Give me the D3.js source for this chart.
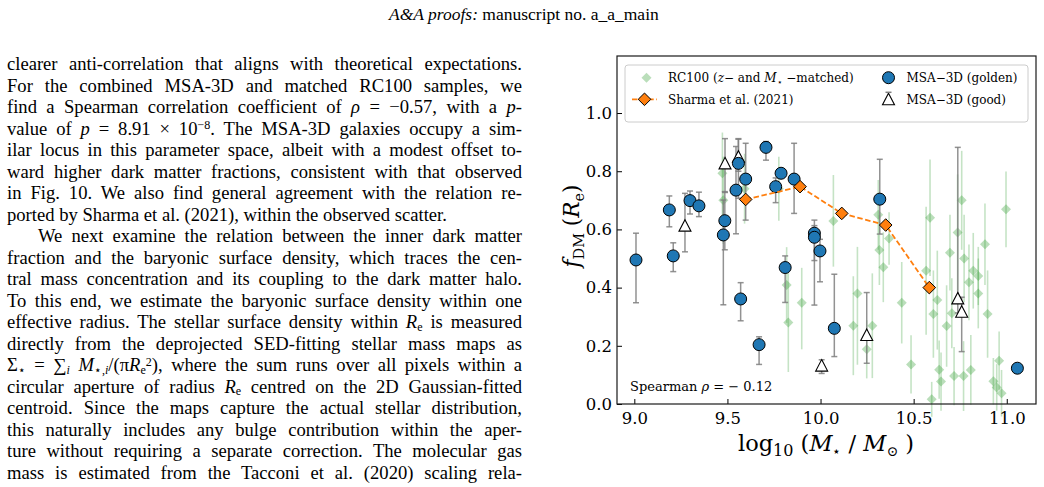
<!DOCTYPE html>
<html>
<head>
<meta charset="utf-8">
<script src="https://cdn.jsdelivr.net/npm/d3@7"></script>
<style>
  html, body { margin:0; padding:0; background:#fff; }
  body { width:1044px; height:487px; overflow:hidden; position:relative; }
  .hdr { position:absolute; left:389px; top:3px; font-family:"Liberation Serif", serif; font-size:17.5px; line-height:22px; white-space:nowrap; color:#000; }
  .ln { position:absolute; left:7px; width:515px; font-family:"Liberation Serif", serif; font-size:18.6px; line-height:21.5px; white-space:nowrap; color:#000; }
  .ln .sb { font-size:65%; position:relative; top:0.2em; line-height:1; }
  .ln .sp { font-size:65%; position:relative; top:-0.45em; line-height:1; }
  svg { position:absolute; left:0; top:0; }
</style>
</head>
<body>
<div class="hdr"><i>A&amp;A proofs:</i> manuscript no. a_a_main</div>
<div id="text"></div>
<div id="chart"></div>
<script>
// ---------------- data ----------------
const xTicks = [9.0, 9.5, 10.0, 10.5, 11.0];
const yTicks = [0.0, 0.2, 0.4, 0.6, 0.8, 1.0];
const xLimits = [8.907, 11.157];
const yLimits = [0.0, 1.196];

// RC100 (z- and M*-matched)
const rcMass  = [9.473, 9.478, 9.592, 9.776, 9.818, 9.827, 9.899, 10.069, 10.310, 10.368, 10.316, 10.337, 10.198, 10.176, 10.278, 10.248, 10.436, 10.486, 10.588, 10.567, 10.627, 10.606, 10.677, 10.695, 10.637, 10.647, 10.597, 10.717, 10.768, 10.807, 10.758, 10.736, 10.771, 10.820, 10.847, 10.797, 10.847, 10.883, 10.897, 10.996, 10.959, 10.928, 10.946, 10.972, 10.705];
const rcFdm   = [0.793, 0.700, 0.740, 0.740, 0.409, 0.280, 0.348, 0.629, 0.650, 0.569, 0.529, 0.470, 0.380, 0.269, 0.269, 0.188, 0.348, 0.136, 0.640, 0.458, 0.357, 0.309, 0.268, 0.520, 0.118, 0.077, 0.016, 0.096, 0.096, 0.117, 0.700, 0.589, 0.500, 0.458, 0.440, 0.418, 0.380, 0.549, 0.309, 0.669, 0.149, 0.078, 0.057, 0.037, 0.312];
const rcErrLo = [0.15, 0.15, 0.12, 0.11, 0.13, 0.17, 0.16, 0.157, 0.12, 0.09, 0.12, 0.12, 0.245, 0.17, 0.18, 0.10, 0.14, 0.10, 0.20, 0.22, 0.17, 0.15, 0.14, 0.13, 0.10, 0.10, 0.06, 0.10, 0.12, 0.12, 0.17, 0.20, 0.15, 0.13, 0.10, 0.13, 0.12, 0.14, 0.15, 0.13, 0.10, 0.08, 0.08, 0.08, 0.12];
const rcErrHi = [0.14, 0.15, 0.12, 0.11, 0.13, 0.17, 0.12, 0.158, 0.12, 0.09, 0.12, 0.12, 0.160, 0.17, 0.18, 0.10, 0.14, 0.10, 0.20, 0.22, 0.17, 0.15, 0.14, 0.13, 0.10, 0.10, 0.06, 0.10, 0.12, 0.12, 0.17, 0.20, 0.15, 0.13, 0.10, 0.13, 0.12, 0.14, 0.15, 0.13, 0.10, 0.08, 0.08, 0.08, 0.12];

// Sharma et al. (2021)
const sharmaMass = [9.598, 9.890, 10.114, 10.350, 10.584];
const sharmaFdm  = [0.703, 0.747, 0.655, 0.615, 0.400];

// MSA-3D (golden)
const goldenMass  = [9.009, 9.188, 9.209, 9.299, 9.347, 9.478, 9.486, 9.559, 9.546, 9.598, 9.571, 9.670, 9.707, 9.788, 9.759, 9.858, 9.810, 9.967, 9.967, 9.997, 10.074, 10.318, 11.057];
const goldenFdm   = [0.495, 0.667, 0.509, 0.699, 0.681, 0.581, 0.630, 0.827, 0.735, 0.773, 0.361, 0.204, 0.882, 0.793, 0.747, 0.773, 0.469, 0.587, 0.573, 0.526, 0.260, 0.704, 0.123];
const goldenErrLo = [0.147, 0.058, 0.054, 0.046, 0.037, 0.240, 0.100, 0.120, 0.150, 0.141, 0.075, 0.068, 0.044, 0.015, 0.055, 0.118, 0.120, 0.247, 0.080, 0.106, 0.097, 0.120, 0.010];
const goldenErrHi = [0.092, 0.048, 0.045, 0.033, 0.047, 0.120, 0.100, 0.085, 0.150, 0.123, 0.056, 0.027, 0.020, 0.015, 0.030, 0.123, 0.040, 0.045, 0.040, 0.040, 0.186, 0.137, 0.010];

// MSA-3D (good)
const goodMass  = [9.272, 9.487, 9.559, 10.006, 10.248, 10.737, 10.758];
const goodFdm   = [0.613, 0.827, 0.850, 0.132, 0.237, 0.363, 0.317];
const goodErrLo = [0.090, 0.100, 0.050, 0.027, 0.097, 0.050, 0.137];
const goodErrHi = [0.111, 0.085, 0.060, 0.020, 0.146, 0.519, 0.050];

const spearmanRho = "−0.12";

// ---------------- page text ----------------
const lines = [
  ["clearer anti-correlation that aligns with theoretical expectations.", 1, 0],
  ["For the combined MSA-3D and matched RC100 samples, we", 1, 0],
  ["find a Spearman correlation coefficient of <i>ρ</i> = −0.57, with a <i>p</i>-", 1, 0],
  ["value of <i>p</i> = 8.91 × 10<span class=\"sp\">−8</span>. The MSA-3D galaxies occupy a sim-", 1, 0],
  ["ilar locus in this parameter space, albeit with a modest offset to-", 1, 0],
  ["ward higher dark matter fractions, consistent with that observed", 1, 0],
  ["in Fig. 10. We also find general agreement with the relation re-", 1, 0],
  ["ported by Sharma et al. (2021), within the observed scatter.", 0, 0],
  ["We next examine the relation between the inner dark matter", 1, 1],
  ["fraction and the baryonic surface density, which traces the cen-", 1, 0],
  ["tral mass concentration and its coupling to the dark matter halo.", 1, 0],
  ["To this end, we estimate the baryonic surface density within one", 1, 0],
  ["effective radius. The stellar surface density within <i>R</i><span class=\"sb\">e</span> is measured", 1, 0],
  ["directly from the deprojected SED-fitting stellar mass maps as", 1, 0],
  ["Σ<span class=\"sb\">⋆</span> = ∑<span class=\"sb\"><i>i</i></span> <i>M</i><span class=\"sb\">⋆,<i>i</i></span>/(π<i>R</i><span class=\"sb\">e</span><span class=\"sp\">2</span>), where the sum runs over all pixels within a", 1, 0],
  ["circular aperture of radius <i>R</i><span class=\"sb\">e</span> centred on the 2D Gaussian-fitted", 1, 0],
  ["centroid. Since the maps capture the actual stellar distribution,", 1, 0],
  ["this naturally includes any bulge contribution within the aper-", 1, 0],
  ["ture without requiring a separate correction. The molecular gas", 1, 0],
  ["mass is estimated from the Tacconi et al. (2020) scaling rela-", 1, 0]
];
const textBox = d3.select("#text");
lines.forEach((l, i) => {
  const indent = l[2] ? 31 : 0;
  const div = textBox.append("div").attr("class", "ln")
    .style("top", (64 + i * 21.5 - 10.75) + "px")
    .style("left", (7 + indent) + "px")
    .style("width", (515 - indent) + "px");
  const span = div.append("span").html(l[0]);
  if (l[1]) {
    const w = span.node().getBoundingClientRect().width;
    const nSp = (span.node().textContent.match(/ /g) || []).length;
    if (nSp > 0) span.style("word-spacing", ((515 - indent - w) / nSp) + "px");
  }
});

// ---------------- chart ----------------
const W = 1044, H = 487;
const L = 617, R = 1036, T = 56, B = 404;
const svg = d3.select("#chart").append("svg").attr("width", W).attr("height", H);
const x = d3.scaleLinear().domain(xLimits).range([L, R]);
const y = d3.scaleLinear().domain(yLimits).range([B, T]);
const serif = "'DejaVu Serif', serif";

const diamond = (s) => `M0,${-s}L${s},0L0,${s}L${-s},0Z`;
const tri = (s) => `M0,${-s}L${s},${s * 0.92}L${-s},${s * 0.92}Z`;

// RC100
const rc = rcMass.map((m, i) => ({ m, f: rcFdm[i], lo: rcErrLo[i], hi: rcErrHi[i] }));
const gRc = svg.append("g");
gRc.selectAll("line").data(rc).join("line")
  .attr("x1", d => x(d.m)).attr("x2", d => x(d.m))
  .attr("y1", d => y(d.f - d.lo)).attr("y2", d => y(d.f + d.hi))
  .attr("stroke", "#2f9a2f").attr("stroke-opacity", 0.28).attr("stroke-width", 1.6);
gRc.selectAll("path").data(rc).join("path")
  .attr("transform", d => `translate(${x(d.m)},${y(d.f)})`)
  .attr("d", diamond(5))
  .attr("fill", "#2f9a2f").attr("fill-opacity", 0.33);

// error bars for MSA-3D
function errbars(data) {
  const g = svg.append("g").attr("stroke", "#7f7f7f").attr("stroke-width", 1.5).attr("stroke-opacity", 0.85);
  data.forEach(d => {
    const cx = x(d.m), y1 = y(d.f - d.lo), y2 = y(d.f + d.hi);
    g.append("line").attr("x1", cx).attr("x2", cx).attr("y1", y1).attr("y2", y2);
    g.append("line").attr("x1", cx - 3).attr("x2", cx + 3).attr("y1", y1).attr("y2", y1);
    g.append("line").attr("x1", cx - 3).attr("x2", cx + 3).attr("y1", y2).attr("y2", y2);
  });
}
const golden = goldenMass.map((m, i) => ({ m, f: goldenFdm[i], lo: goldenErrLo[i], hi: goldenErrHi[i] }));
const good = goodMass.map((m, i) => ({ m, f: goodFdm[i], lo: goodErrLo[i], hi: goodErrHi[i] }));
errbars(good);
errbars(golden);

svg.append("g").selectAll("path").data(good).join("path")
  .attr("transform", d => `translate(${x(d.m)},${y(d.f)})`)
  .attr("d", tri(6))
  .attr("fill", "#fff").attr("stroke", "#000").attr("stroke-width", 1.1);

svg.append("g").selectAll("circle").data(golden).join("circle")
  .attr("cx", d => x(d.m)).attr("cy", d => y(d.f)).attr("r", 6)
  .attr("fill", "#1f77b4").attr("stroke", "#000").attr("stroke-width", 1);

// Sharma
const sh = sharmaMass.map((m, i) => ({ m, f: sharmaFdm[i] }));
svg.append("path").datum(sh)
  .attr("d", d3.line().x(d => x(d.m)).y(d => y(d.f)))
  .attr("fill", "none").attr("stroke", "#ff7f0e").attr("stroke-width", 1.8).attr("stroke-dasharray", "5.5,2.6");
svg.append("g").selectAll("path").data(sh).join("path")
  .attr("transform", d => `translate(${x(d.m)},${y(d.f)})`)
  .attr("d", diamond(6.3))
  .attr("fill", "#ff7f0e").attr("stroke", "#000").attr("stroke-width", 1);

// axes
const xAxis = svg.append("g").attr("transform", `translate(0,${B})`)
  .call(d3.axisBottom(x).tickValues(xTicks).tickFormat(d3.format(".1f")).tickSizeInner(-5).tickSizeOuter(0).tickPadding(8));
const yAxis = svg.append("g").attr("transform", `translate(${L},0)`)
  .call(d3.axisLeft(y).tickValues(yTicks).tickFormat(d3.format(".1f")).tickSizeInner(-5).tickSizeOuter(0).tickPadding(5));
[xAxis, yAxis].forEach(a => {
  a.select(".domain").remove();
  a.selectAll("text").attr("font-family", serif).attr("font-size", 16.5).attr("fill", "#000");
  a.selectAll("line").attr("stroke", "#000").attr("stroke-width", 1);
});
svg.append("rect").attr("x", L).attr("y", T).attr("width", R - L).attr("height", B - T)
  .attr("fill", "none").attr("stroke", "#1a1a1a").attr("stroke-width", 1.2);

// axis labels
const xl = svg.append("text").attr("x", 826).attr("y", 451).attr("text-anchor", "middle")
  .attr("font-family", serif).attr("font-size", 22.5).attr("fill", "#000");
xl.append("tspan").text("log");
xl.append("tspan").attr("dy", 5).attr("font-size", 16).text("10");
xl.append("tspan").attr("dy", -5).text(" (");
xl.append("tspan").attr("font-style", "italic").text("M");
xl.append("tspan").attr("dy", 5).attr("font-size", 14).text("⋆");
xl.append("tspan").attr("dy", -5).text(" / ");
xl.append("tspan").attr("font-style", "italic").text("M");
xl.append("tspan").attr("dy", 5).attr("font-size", 14).text("⊙");
xl.append("tspan").attr("dy", -5).text(" )");

const yl = svg.append("text").attr("transform", "translate(579,226) rotate(-90)").attr("text-anchor", "middle")
  .attr("font-family", serif).attr("font-size", 21.5).attr("fill", "#000");
yl.append("tspan").attr("font-style", "italic").text("f");
yl.append("tspan").attr("dy", 5).attr("font-size", 14.5).text("DM");
yl.append("tspan").attr("dy", -5).text(" (");
yl.append("tspan").attr("font-style", "italic").text("R");
yl.append("tspan").attr("dy", 5).attr("font-size", 14.5).text("e");
yl.append("tspan").attr("dy", -5).text(")");

// Spearman annotation
const sp = svg.append("text").attr("x", 630).attr("y", 391).attr("font-family", serif).attr("font-size", 13).attr("fill", "#000");
sp.append("tspan").text("Spearman ");
sp.append("tspan").attr("font-style", "italic").text("ρ");
sp.append("tspan").text(" = " + spearmanRho.replace("−", "− "));

// legend
const lg = svg.append("g");
lg.append("rect").attr("x", 625).attr("y", 65).attr("width", 403).attr("height", 57).attr("rx", 3)
  .attr("fill", "#fff").attr("fill-opacity", 0.8).attr("stroke", "#cccccc").attr("stroke-width", 1);
const r1 = 77.7, r2 = 99.3;
lg.append("path").attr("transform", `translate(646.5,${r1})`).attr("d", diamond(5))
  .attr("fill", "#2f9a2f").attr("fill-opacity", 0.33);
lg.append("line").attr("x1", 632).attr("x2", 657).attr("y1", r2).attr("y2", r2)
  .attr("stroke", "#ff7f0e").attr("stroke-width", 1.8).attr("stroke-dasharray", "5.5,2.6");
lg.append("path").attr("transform", `translate(644.5,${r2})`).attr("d", diamond(6.3))
  .attr("fill", "#ff7f0e").attr("stroke", "#000").attr("stroke-width", 1);
lg.append("circle").attr("cx", 888.5).attr("cy", r1).attr("r", 6)
  .attr("fill", "#1f77b4").attr("stroke", "#000").attr("stroke-width", 1);
lg.append("path").attr("transform", `translate(888.5,${r2})`).attr("d", tri(6))
  .attr("fill", "#fff").attr("stroke", "#000").attr("stroke-width", 1.1);
lg.append("line").attr("x1", 885.5).attr("x2", 891.5).attr("y1", r2 - 7).attr("y2", r2 - 7)
  .attr("stroke", "#7f7f7f").attr("stroke-width", 1.5);

function ltext(xp, yp) {
  return lg.append("text").attr("x", xp).attr("y", yp + 4.3).attr("font-family", serif).attr("font-size", 12).attr("fill", "#000");
}
const t1 = ltext(668, r1);
t1.append("tspan").text("RC100 (");
t1.append("tspan").attr("font-style", "italic").text("z");
t1.append("tspan").text("− and ");
t1.append("tspan").attr("font-style", "italic").text("M");
t1.append("tspan").attr("dy", 3).attr("font-size", 9).text("⋆");
t1.append("tspan").attr("dy", -3).text(" −matched)");
ltext(668, r2).text("Sharma et al. (2021)");
ltext(906.5, r1).text("MSA−3D (golden)");
ltext(906.5, r2).text("MSA−3D (good)");
</script>
</body>
</html>
